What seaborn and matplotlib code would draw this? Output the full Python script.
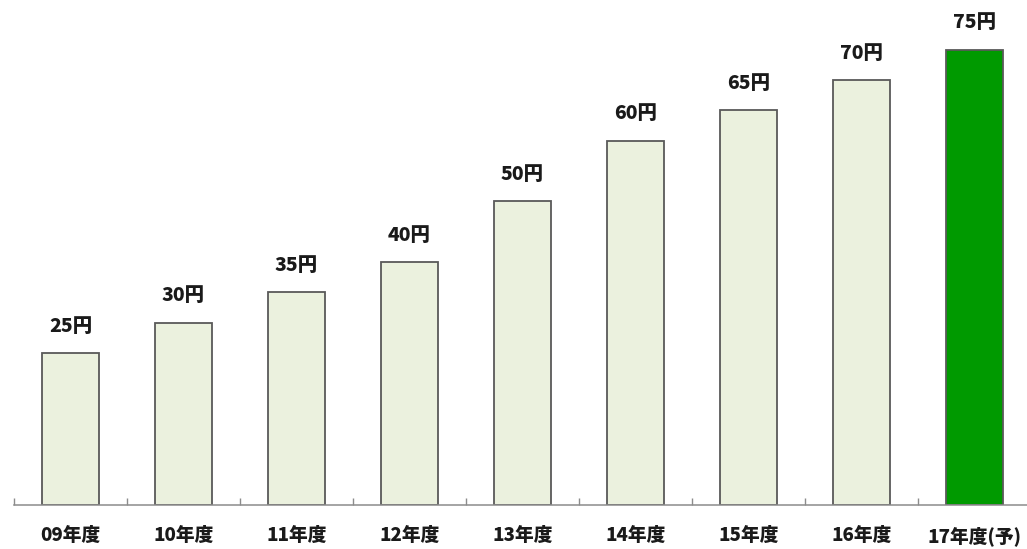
import matplotlib
matplotlib.use("Agg")
import matplotlib.pyplot as plt
import seaborn as sns
import numpy as np
import pandas as pd

sns.set_theme(style="white")
plt.rcParams['font.family'] = ['Noto Sans CJK JP', 'DejaVu Sans']

years = ["09年度", "10年度", "11年度", "12年度", "13年度", "14年度", "15年度", "16年度", "17年度(予)"]
dividends = [25, 30, 35, 40, 50, 60, 65, 70, 75]
value_labels = [f"{v}円" for v in dividends]

df = pd.DataFrame({"year": years, "dividend": dividends})
palette = ["#EBF1DE"] * 8 + ["#009A00"]

fig = plt.figure(figsize=(10.27, 5.49), dpi=100)
ax = fig.add_axes([14 / 1027, 44 / 549, 1017 / 1027, 484 / 549])

sns.barplot(data=df, x="year", y="dividend", hue="year", palette=palette,
            legend=False, width=0.505, edgecolor="#595959", linewidth=1.3,
            saturation=1, ax=ax)

ax.set_xlim(-0.5, 8.5)
ax.set_ylim(0, 79.7)

for i, (v, lab) in enumerate(zip(dividends, value_labels)):
    ax.annotate(lab, (i, v), xytext=(0, 12.5), textcoords="offset points",
                ha="center", va="bottom", fontsize=14, fontweight="heavy",
                color="#1a1a1a")

ax.set_xlabel("")
ax.set_ylabel("")
ax.set_yticks([])
ax.tick_params(axis="x", which="major", length=0, pad=15, labelsize=13.5,
               labelcolor="#1a1a1a")
for t in ax.get_xticklabels():
    t.set_fontweight("heavy")
ax.set_xticks(np.arange(-0.5, 9.0, 1.0), minor=True)
ax.tick_params(axis="x", which="minor", direction="in", length=5,
               width=1, color="#8c8c8c", bottom=True)

for side in ["top", "right", "left"]:
    ax.spines[side].set_visible(False)
ax.spines["bottom"].set_color("#8c8c8c")
ax.spines["bottom"].set_linewidth(1.1)

fig.savefig("out.png", dpi=100)
